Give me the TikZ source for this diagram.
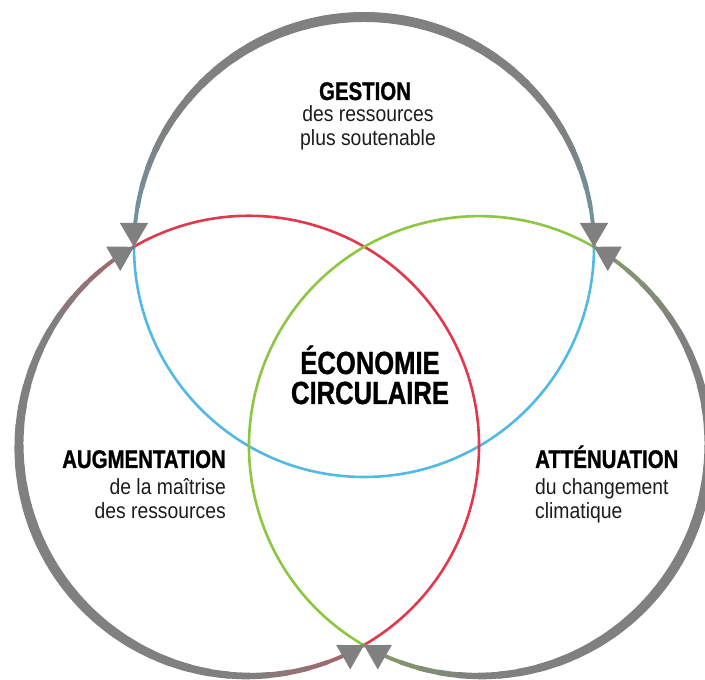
\documentclass[tikz,border=0pt]{standalone}
\usepackage{fontspec}
\usetikzlibrary{arrows.meta,calc}
\setmainfont{Liberation Sans}[FakeStretch=0.88]
\newfontfamily\headfont{Liberation Sans}[FakeStretch=0.8,FakeBold=1]
\definecolor{cgray}{RGB}{128,128,128}
\definecolor{cred}{RGB}{226,56,78}
\definecolor{cblue}{RGB}{82,186,226}
\definecolor{cgreen}{RGB}{141,198,66}
\definecolor{ctext}{RGB}{28,28,28}

\begin{document}
\begin{tikzpicture}[x=1pt,y=1pt,
    inner/.style={line width=2.6pt},
    tip/.style={cgray, line width=1pt, -{Triangle[length=24pt,width=28pt]}},
    title/.style={font=\headfont\bfseries\fontsize{25.5}{26}\selectfont, inner sep=0pt, text=black},
    sub/.style={font=\fontsize{22}{24.5}\selectfont, inner sep=0pt, text=ctext},
    core/.style={font=\headfont\bfseries\fontsize{32}{30}\selectfont, inner sep=0pt, text=black}]
    \useasboundingbox (0,0) rectangle (705,680);
    % circle centres and meeting points
    \coordinate (T) at (364,433);
    \coordinate (L) at (249,234);
    \coordinate (R) at (479,234);
    \coordinate (TL) at (134,433);
    \coordinate (TR) at (594,433);
    \coordinate (B) at (364,35);
    % inner arcs
    \draw [inner, cblue] (TL) arc (180:360:230);
    \draw [inner, cred] (B) arc (-60:120:230);
    \draw [inner, cgreen] (TR) arc (60:240:230);
    % outer arcs, thick in the middle, tinted at the ends
    \foreach \c/\col/\a in {T/cblue/0, L/cred/120, R/cgreen/240} {
      \foreach \k in {0,...,35} {
        \pgfmathsetmacro\s{\a+5*\k}
        \pgfmathsetmacro\w{3+7*sin(5*\k+2.5)}
        \pgfmathsetmacro\m{100-45*max(0,1-2*sin(5*\k+2.5))}
        \draw [line width=\w pt, line cap=round, draw=cgray!\m!\col]
          ($(\c)+(\s:230)$) arc (\s:\s+5:230);
      }
    }
    % arrow heads
    \foreach \c/\p/\q in {T/6.5/0, T/173.5/180, L/126.5/120, L/293.5/300, R/246.5/240, R/53.5/60}
      \draw [tip] ($(\c)+(\p:230)$) arc (\p:\q:230);
    % texts
    \node [title, anchor=base] (gestion) at (365,580) {GESTION};
    \node [sub, align=center, anchor=base] (gestiontxt) at (368,534) {des ressources\\plus soutenable};
    \node [title, anchor=base east] (augm) at (226,212) {AUGMENTATION};
    \node [sub, align=right, anchor=base east] (augmtxt) at (226,161) {de la maîtrise\\des ressources};
    \node [title, anchor=base west] (atten) at (535,212) {ATTÉNUATION};
    \node [sub, align=left, anchor=base west] (attentxt) at (535,161) {du changement\\climatique};
    \node [core, align=center, anchor=base] (eco) at (370,276) {ÉCONOMIE\\CIRCULAIRE};
\end{tikzpicture}
\end{document}
